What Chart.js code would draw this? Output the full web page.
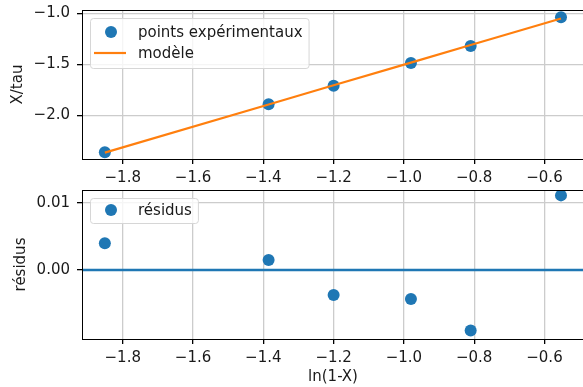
<!DOCTYPE html>
<html lang="fr">
<head>
<meta charset="utf-8">
<title>Modèle et résidus</title>
<script src="https://cdn.jsdelivr.net/npm/chart.js@4.4.0/dist/chart.umd.min.js"></script>
<style>
    html, body { margin: 0; padding: 0; background: #fff; overflow: hidden; }
    #wrap { position: relative; width: 583px; height: 387px; overflow: hidden; }
    canvas { position: absolute; left: 0; }
    #haut { top: 0; }
    #bas { top: 180px; }
</style>
</head>
<body>
<div id="wrap">
    <canvas id="haut" width="590" height="190"></canvas>
    <canvas id="bas" width="590" height="207"></canvas>
</div>
<script>
// Données
const lnX = [-1.851, -1.385, -1.200, -0.980, -0.810, -0.553];
const xSurTau = [-2.363, -1.893, -1.711, -1.488, -1.321, -1.040];
const modele = [-2.367, -1.895, -1.707, -1.484, -1.312, -1.051];
const residus = [0.0040, 0.0015, -0.0037, -0.0043, -0.0090, 0.0111];
const niveauZero = 0;

// Graduations
const xTicks = [-1.8, -1.6, -1.4, -1.2, -1.0, -0.8, -0.6];
const yTicksHaut = [-2.0, -1.5, -1.0];
const yTicksBas = [0.00, 0.01];

// Bornes des axes
const xLim = [-1.916, -0.4875];
const yLimHaut = [-2.43, -0.968];
const yLimBas = [-0.01025, 0.0119];

const BLEU = '#1f77b4';
const ORANGE = '#ff7f0e';
const TEXTE = '#1a1a1a';
const GRILLE = '#cccccc';

Chart.defaults.font.family = "'DejaVu Sans', sans-serif";
Chart.defaults.font.size = 15;
Chart.defaults.color = TEXTE;

// Formatage façon matplotlib (signe moins unicode)
function fmt(v, d) {
    const s = Math.abs(v).toFixed(d);
    return (v < -1e-12 ? '\u2212' : '') + s;
}

function points(xs, ys) {
    return xs.map((x, i) => ({ x: x, y: ys[i] }));
}

// Cadre complet autour de la zone de tracé
const cadre = {
    id: 'cadre',
    afterDatasetsDraw(chart) {
        const { ctx, chartArea: a } = chart;
        ctx.save();
        ctx.strokeStyle = '#000';
        ctx.lineWidth = 1;
        ctx.strokeRect(Math.round(a.left) + 0.5, Math.round(a.top) + 0.5,
            Math.round(a.right - a.left), Math.round(a.bottom - a.top));
        ctx.restore();
    }
};

// Légende dans la zone de tracé, en haut à gauche
const legende = {
    id: 'legende',
    afterDraw(chart, args, opts) {
        const { ctx, chartArea: a } = chart;
        const sets = chart.data.datasets.filter(d => d.label);
        const x0 = a.left + 8, y0 = a.top + opts.top;
        const h = opts.hauteur;
        ctx.save();
        ctx.font = "15px 'DejaVu Sans', sans-serif";
        let w = 0;
        sets.forEach(d => { w = Math.max(w, ctx.measureText(d.label).width); });
        const larg = 48 + w + 6;
        ctx.beginPath();
        ctx.roundRect(x0 + 0.5, y0 + 0.5, larg, h, 3);
        ctx.fillStyle = 'rgba(255,255,255,0.8)';
        ctx.fill();
        ctx.strokeStyle = '#d6d6d6';
        ctx.lineWidth = 1;
        ctx.stroke();
        sets.forEach((d, i) => {
            const y = y0 + opts.premier + i * 21;
            if (d.showLine) {
                ctx.strokeStyle = d.borderColor;
                ctx.lineWidth = d.borderWidth;
                ctx.beginPath();
                ctx.moveTo(x0 + 4, y);
                ctx.lineTo(x0 + 36, y);
                ctx.stroke();
            } else {
                ctx.fillStyle = d.backgroundColor;
                ctx.beginPath();
                ctx.arc(x0 + 21, y, 6, 0, Math.PI * 2);
                ctx.fill();
            }
            ctx.fillStyle = TEXTE;
            ctx.textBaseline = 'middle';
            ctx.fillText(d.label, x0 + 48, y + 1);
        });
        ctx.restore();
    }
};

function axeX(hauteur, titre) {
    return {
        type: 'linear',
        min: xLim[0],
        max: xLim[1],
        afterBuildTicks: s => { s.ticks = xTicks.map(v => ({ value: v })); },
        afterFit: s => { s.height = hauteur - 159; s.paddingLeft = 0; s.paddingRight = 0; },
        grid: { color: GRILLE, lineWidth: 1.3, tickColor: '#000', tickLength: 5 },
        border: { color: '#000', width: 1 },
        ticks: { padding: 5, maxRotation: 0, autoSkip: false, color: TEXTE, callback: v => fmt(v, 1) },
        title: { display: !!titre, text: titre || '', color: TEXTE, padding: { top: 0, bottom: 1 } }
    };
}

function axeY(lim, ticks, dec, titre, pad) {
    return {
        type: 'linear',
        min: lim[0],
        max: lim[1],
        afterBuildTicks: s => { s.ticks = ticks.map(v => ({ value: v })); },
        afterFit: s => { s.width = 82; s.paddingTop = 0; s.paddingBottom = 0; },
        grid: { color: GRILLE, lineWidth: 1.3, tickColor: '#000', tickLength: 5 },
        border: { color: '#000', width: 1 },
        ticks: { padding: 7, color: TEXTE, callback: v => fmt(v, dec) },
        title: { display: true, text: titre, color: TEXTE, padding: { top: pad, bottom: 0 } }
    };
}

// Graphique du haut : points expérimentaux et modèle
new Chart(document.getElementById('haut'), {
    type: 'scatter',
    data: {
        datasets: [{
            label: 'points expérimentaux',
            data: points(lnX, xSurTau),
            backgroundColor: BLEU,
            borderWidth: 0,
            pointRadius: 6,
            order: 2
        }, {
            label: 'modèle',
            data: points(lnX, modele),
            showLine: true,
            borderColor: ORANGE,
            borderWidth: 2.2,
            pointRadius: 0,
            order: 1
        }]
    },
    options: {
        responsive: false,
        animation: false,
        devicePixelRatio: 1,
        layout: { padding: { top: 10, left: 0, right: 5, bottom: 0 } },
        plugins: {
            legend: { display: false },
            tooltip: { enabled: false },
            legende: { top: 8, hauteur: 50, premier: 14 }
        },
        scales: {
            x: axeX(190, ''),
            y: axeY(yLimHaut, yTicksHaut, 1, 'X/tau', 9)
        }
    },
    plugins: [cadre, legende]
});

// Graphique du bas : résidus
new Chart(document.getElementById('bas'), {
    type: 'scatter',
    data: {
        datasets: [{
            label: 'résidus',
            data: points(lnX, residus),
            backgroundColor: BLEU,
            borderWidth: 0,
            pointRadius: 6
        }, {
            data: [{ x: xLim[0], y: niveauZero }, { x: xLim[1], y: niveauZero }],
            showLine: true,
            borderColor: BLEU,
            borderWidth: 2.5,
            pointRadius: 0
        }]
    },
    options: {
        responsive: false,
        animation: false,
        devicePixelRatio: 1,
        layout: { padding: { top: 10, left: 0, right: 5, bottom: 0 } },
        plugins: {
            legend: { display: false },
            tooltip: { enabled: false },
            legende: { top: 8, hauteur: 25, premier: 12 }
        },
        scales: {
            x: axeX(207, 'ln(1-X)'),
            y: axeY(yLimBas, yTicksBas, 2, 'résidus', 12)
        }
    },
    plugins: [cadre, legende]
});
</script>
</body>
</html>
